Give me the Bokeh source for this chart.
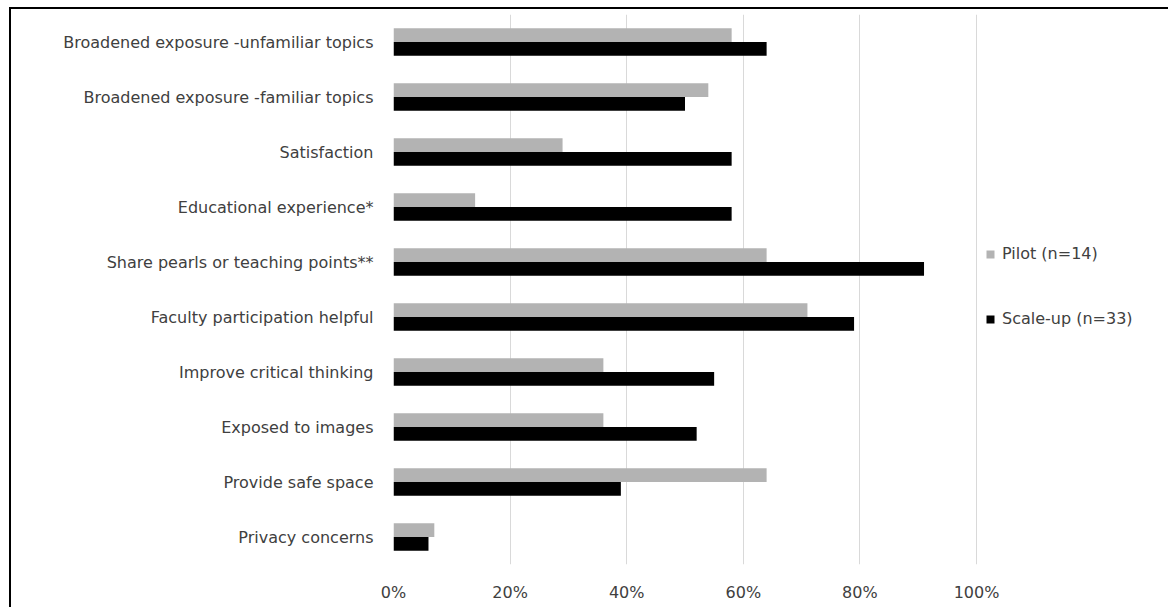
from bokeh.plotting import figure
from bokeh.models import (ColumnDataSource, FactorRange, Range1d, FixedTicker,
                          NumeralTickFormatter, Legend, LegendItem)
from bokeh.transform import dodge
from bokeh.embed import file_html
from bokeh.resources import INLINE

categories = [
    "Broadened exposure -unfamiliar topics",
    "Broadened exposure -familiar topics",
    "Satisfaction",
    "Educational experience*",
    "Share pearls or teaching points**",
    "Faculty participation helpful",
    "Improve critical thinking",
    "Exposed to images",
    "Provide safe space",
    "Privacy concerns",
]
pilot = [0.58, 0.54, 0.29, 0.14, 0.64, 0.71, 0.36, 0.36, 0.64, 0.07]
scaleup = [0.64, 0.50, 0.58, 0.58, 0.91, 0.79, 0.55, 0.52, 0.39, 0.06]
x_ticks = [0, 0.2, 0.4, 0.6, 0.8, 1.0]
series_names = ["Pilot (n=14)", "Scale-up (n=33)"]
series_colors = ["#b3b3b3", "#000000"]

src = ColumnDataSource(dict(cat=categories, pilot=pilot, scaleup=scaleup))

FONT = "DejaVu Sans"
TEXT = "#404040"

FRAME_W = 1159 - 382          # frame runs to the canvas' right edge
AXIS_W = 583                  # pixels spanned by 0%..100%
x_end = 1.0 * FRAME_W / AXIS_W  # extra room on the right holds the legend

p = figure(
    width=1159, height=600,
    y_range=FactorRange(factors=list(reversed(categories)), range_padding=0),
    x_range=Range1d(0, x_end),
    output_backend="svg", toolbar_location=None,
    min_border_left=382, min_border_right=0,
    min_border_top=5, min_border_bottom=45,
)
p.styles = {"margin-left": "9px", "margin-top": "7px",
            "border-left": "2px solid #000", "border-top": "2px solid #000"}

r1 = p.hbar(y=dodge("cat", 0.125, range=p.y_range), right="pilot", left=0,
            height=0.25, source=src, fill_color=series_colors[0], line_color=None)
r2 = p.hbar(y=dodge("cat", -0.125, range=p.y_range), right="scaleup", left=0,
            height=0.25, source=src, fill_color=series_colors[1], line_color=None)

p.outline_line_color = None
p.background_fill_color = "white"
p.border_fill_color = "white"

p.xgrid.grid_line_color = "#d9d9d9"
p.xgrid.grid_line_width = 1
p.ygrid.grid_line_color = None

p.xaxis.ticker = FixedTicker(ticks=x_ticks)
p.xaxis.formatter = NumeralTickFormatter(format="0%")
p.xgrid.ticker = FixedTicker(ticks=x_ticks)

for ax in (p.xaxis[0], p.yaxis[0]):
    ax.axis_line_color = None
    ax.major_tick_line_color = None
    ax.minor_tick_line_color = None
    ax.major_tick_out = 0
    ax.major_tick_in = 0
    ax.major_label_text_font = FONT
    ax.major_label_text_font_size = "16px"
    ax.major_label_text_color = TEXT

p.yaxis.major_label_standoff = 20
p.xaxis.major_label_standoff = 18

legend = Legend(
    items=[LegendItem(label=series_names[0], renderers=[r1]),
           LegendItem(label=series_names[1], renderers=[r2])],
    location=(592, 236),
    orientation="vertical",
    border_line_color=None,
    background_fill_alpha=0,
    label_text_font=FONT,
    label_text_font_size="16px",
    label_text_color=TEXT,
    glyph_width=10, glyph_height=10,
    label_standoff=7,
    spacing=46,
    margin=0, padding=10,
)
p.add_layout(legend)

open("out.html", "w").write(file_html(p, INLINE))
